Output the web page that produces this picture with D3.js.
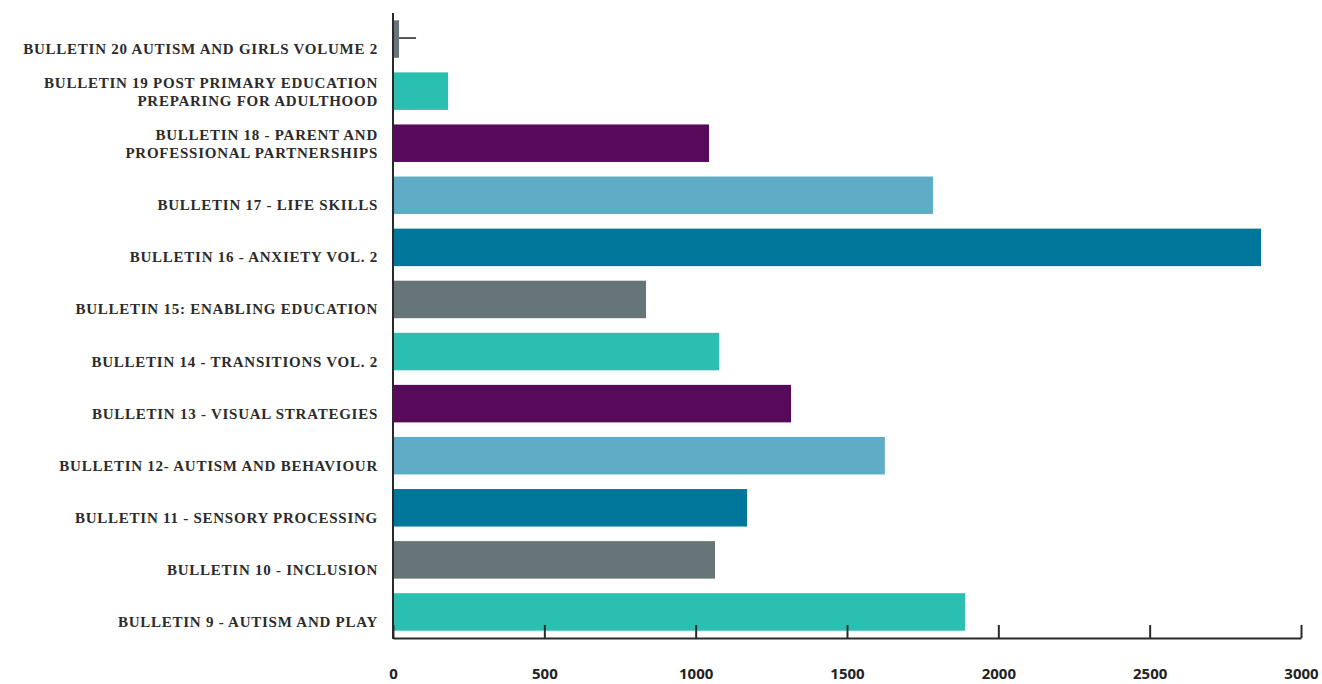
<!DOCTYPE html>
<html>
<head>
<meta charset="utf-8">
<script src="https://cdn.jsdelivr.net/npm/d3@7"></script>
<style>
  html, body { margin: 0; padding: 0; background: #fff; }
  svg { display: block; }
</style>
</head>
<body>
<svg id="chart" width="1322" height="684"></svg>
<script>
const categories = [
  ["BULLETIN 20 AUTISM AND GIRLS VOLUME 2"],
  ["BULLETIN 19 POST PRIMARY EDUCATION", "PREPARING FOR ADULTHOOD"],
  ["BULLETIN 18 - PARENT AND", "PROFESSIONAL PARTNERSHIPS"],
  ["BULLETIN 17 - LIFE SKILLS"],
  ["BULLETIN 16 - ANXIETY VOL. 2"],
  ["BULLETIN 15: ENABLING EDUCATION"],
  ["BULLETIN 14 - TRANSITIONS VOL. 2"],
  ["BULLETIN 13 - VISUAL STRATEGIES"],
  ["BULLETIN 12- AUTISM AND BEHAVIOUR"],
  ["BULLETIN 11 - SENSORY PROCESSING"],
  ["BULLETIN 10 - INCLUSION"],
  ["BULLETIN 9 - AUTISM AND PLAY"]
];
const values = [20, 182, 1044, 1784, 2868, 836, 1077, 1315, 1625, 1170, 1064, 1890];
const colors = ["#667577", "#2bbfb2", "#570a59", "#5eacc6", "#00779a", "#667577",
                "#2bbfb2", "#570a59", "#5eacc6", "#00779a", "#667577", "#2bbfb2"];
const tickValues = [0, 500, 1000, 1500, 2000, 2500, 3000];

const svg = d3.select("#chart");
const mLeft = 393, mRight = 1301, mTop = 13, mBottom = 638;

const x = d3.scaleLinear().domain([0, 3000]).range([mLeft, mRight]);
const y = d3.scaleBand().domain(d3.range(categories.length)).range([mTop, mBottom])
  .paddingInner(0.28).paddingOuter(0.14);

// bars
svg.append("g").selectAll("rect").data(values).join("rect")
  .attr("x", x(0))
  .attr("y", (d, i) => y(i))
  .attr("width", d => x(d) - x(0))
  .attr("height", y.bandwidth())
  .attr("fill", (d, i) => colors[i]);

// small stray mark next to first bar
svg.append("line")
  .attr("x1", x(values[0]))
  .attr("x2", x(values[0]) + 17)
  .attr("y1", y(0) + y.bandwidth() / 2 - 1)
  .attr("y2", y(0) + y.bandwidth() / 2 - 1)
  .attr("stroke", "#222").attr("stroke-width", 1.5);

// x axis
const xAxis = d3.axisBottom(x).tickValues(tickValues).tickSizeInner(-13).tickSizeOuter(0).tickPadding(0);
const gx = svg.append("g").attr("transform", `translate(0,${mBottom})`).call(xAxis);
gx.select(".domain").attr("stroke", "#2a2a2a").attr("stroke-width", 2);
gx.selectAll(".tick line").attr("stroke", "#2a2a2a").attr("stroke-width", 2);
gx.selectAll(".tick text").remove();
gx.selectAll(".tick").append("text")
  .attr("y", 41)
  .attr("text-anchor", "middle")
  .attr("fill", "#222")
  .style("font-family", "'Open Sans', 'DejaVu Sans', sans-serif")
  .style("font-weight", "700")
  .style("font-size", "15px")
  .text(d => d);

// y axis line
svg.append("line")
  .attr("x1", mLeft).attr("x2", mLeft)
  .attr("y1", mTop).attr("y2", mBottom + 1)
  .attr("stroke", "#2a2a2a").attr("stroke-width", 2);

// labels
const lab = svg.append("g");
categories.forEach((lines, i) => {
  const cy = y(i) + y.bandwidth() / 2;
  const n = lines.length;
  lines.forEach((t, k) => {
    lab.append("text")
      .attr("x", 378)
      .attr("y", cy + 9 + 18 * (k - (n - 1)) + 6)
      .attr("text-anchor", "end")
      .attr("fill", "#2b2b2b")
      .style("font-family", "'Liberation Serif', 'DejaVu Serif', serif")
      .style("font-weight", "700")
      .style("font-size", "15px")
      .style("letter-spacing", "0.75px")
      .text(t);
  });
});
</script>
</body>
</html>
